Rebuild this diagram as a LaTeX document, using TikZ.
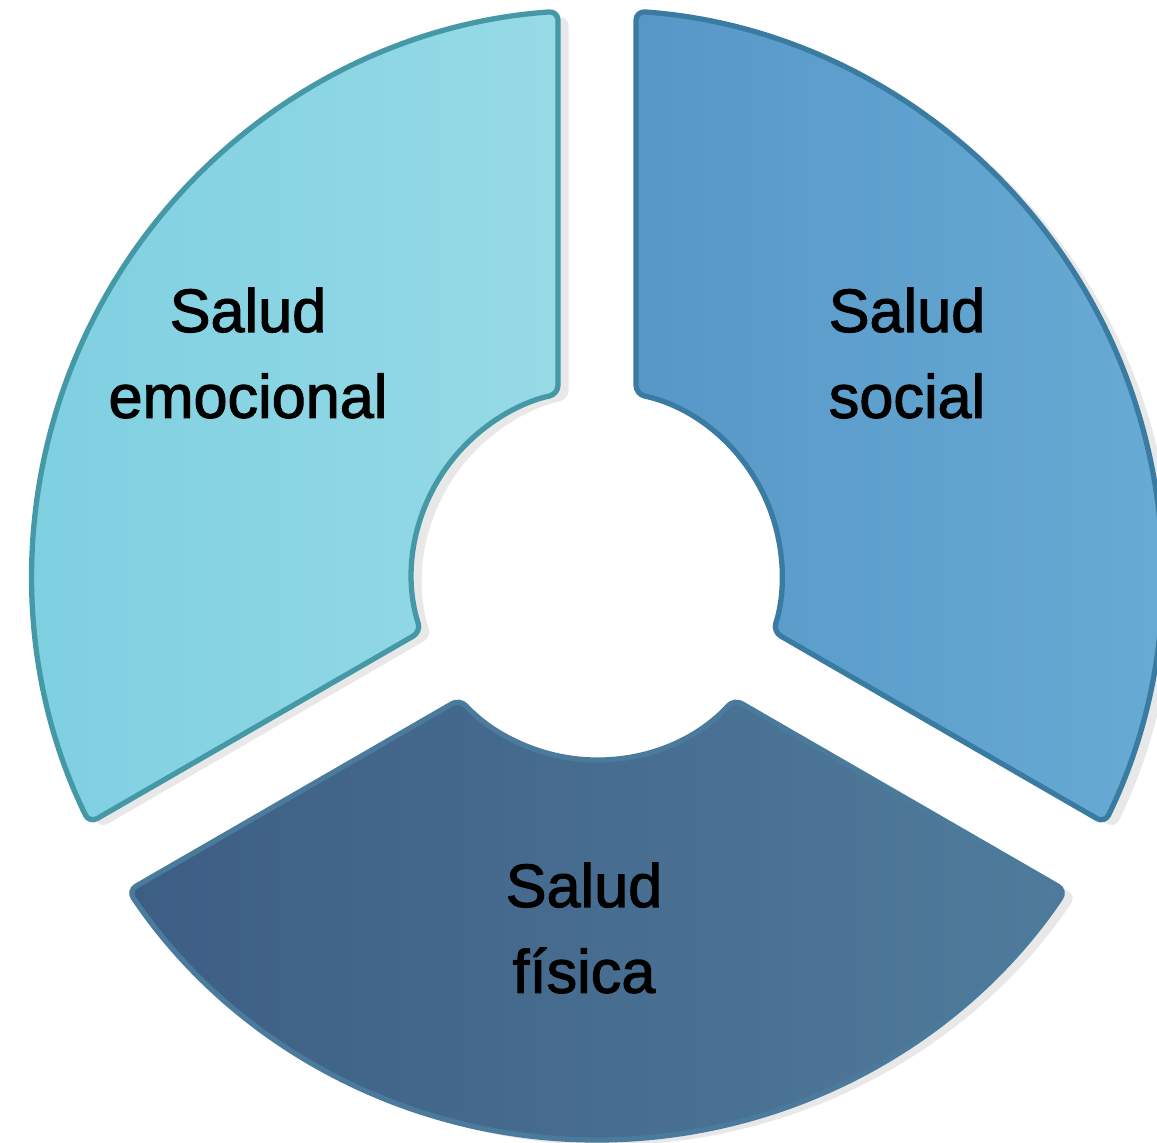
\documentclass[tikz,border=0pt]{standalone}
\usepackage{fontspec}
\setmainfont{Liberation Sans}
\newfontfamily\etiqfont{Liberation Sans}[FakeBold=1.8]
\usepackage{xcolor}
\usetikzlibrary{shadows}

\definecolor{emoA}{HTML}{7DCFE1}
\definecolor{emoB}{HTML}{97DAE6}
\definecolor{emoBorde}{HTML}{4599A6}
\definecolor{socA}{HTML}{5797C8}
\definecolor{socB}{HTML}{68ACD4}
\definecolor{socBorde}{HTML}{3A7BA2}
\definecolor{fisA}{HTML}{3D5E84}
\definecolor{fisB}{HTML}{507B9B}
\definecolor{fisBorde}{HTML}{4A7A9C}

% half gap as angles on the outer (565) and inner (185) circle
\def\ga{3.96}
\def\gb{12.17}
\newcommand{\trozo}[3]{%
  \draw[#1] ({#2+\ga}:565) arc[start angle={#2+\ga}, end angle={#3-\ga}, radius=565]
    -- ({#3-\gb}:185) arc[start angle={#3-\gb}, end angle={#2+\gb}, radius=185] -- cycle;}

\tikzset{
  trozo/.style={line width=1.5pt, rounded corners=2.5pt,
    drop shadow={shadow xshift=3pt, shadow yshift=-1.5pt, opacity=0.18}},
  etiqueta/.style={align=center, text=black, inner sep=0pt,
    font=\etiqfont\fontsize{17.4}{24.4}\selectfont}
}

\begin{document}
\begin{tikzpicture}[x=0.01cm,y=0.01cm]
  \useasboundingbox (0,0) rectangle (1157,-1143);
  \begin{scope}[shift={(597,-575)}]
    \trozo{trozo, left color=socA, right color=socB, draw=socBorde}{-30}{90}
    \trozo{trozo, left color=emoA, right color=emoB, draw=emoBorde}{90}{210}
    \trozo{trozo, left color=fisA, right color=fisB, draw=fisBorde}{210}{330}
  \end{scope}

  \node[etiqueta] (emocional) at (248,-353) {Salud\\emocional};
  \node[etiqueta] (social) at (907,-353) {Salud\\social};
  \node[etiqueta] (fisica) at (584,-928) {Salud\\física};
\end{tikzpicture}
\end{document}
